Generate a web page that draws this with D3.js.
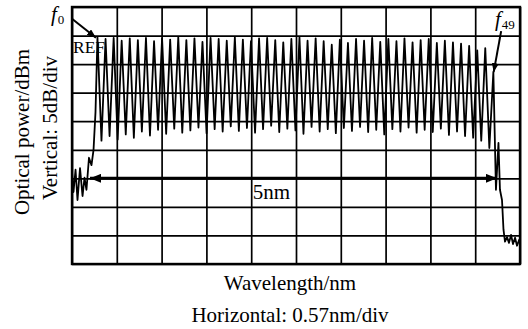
<!DOCTYPE html>
<html>
<head>
<meta charset="utf-8">
<script src="https://cdn.jsdelivr.net/npm/d3@7"></script>
<style>
  html, body { margin: 0; padding: 0; background: #fff; }
  svg { display: block; }
  text { font-family: "Liberation Serif", "Times New Roman", serif; fill: #000; }
</style>
</head>
<body>
<div id="chart"></div>
<script>
// grid divisions: 0.57 nm/div horizontally, 5 dB/div vertically (REF = 0 dB)
const xDivisions = [0, 0.57, 1.14, 1.71, 2.28, 2.85, 3.42, 3.99, 4.56, 5.13, 5.7];
const yDivisions = [5, 0, -5, -10, -15, -20, -25, -30, -35, -40];

// comb peaks f0 .. f49 (relative wavelength in nm, level in dB)
const peakNm = [0.324, 0.427, 0.530, 0.632, 0.735, 0.838, 0.941, 1.044, 1.146, 1.249,
  1.352, 1.455, 1.558, 1.660, 1.763, 1.866, 1.969, 2.072, 2.174, 2.277,
  2.380, 2.483, 2.586, 2.688, 2.791, 2.894, 2.997, 3.100, 3.202, 3.305,
  3.408, 3.511, 3.614, 3.716, 3.819, 3.922, 4.025, 4.128, 4.230, 4.333,
  4.436, 4.539, 4.642, 4.744, 4.847, 4.950, 5.053, 5.156, 5.258, 5.361];
const peakDb = [-0.3, -0.6, -0.4, -0.9, -0.5, -0.8, -0.4, -1.0, -0.5, -0.7,
  -0.3, -0.8, -0.5, -1.1, -0.4, -0.6, -0.9, -0.3, -0.7, -1.0,
  -0.5, -0.4, -0.8, -1.2, -0.6, -0.3, -0.9, -0.5, -1.0, -1.6,
  -0.7, -1.3, -0.6, -0.9, -0.4, -1.1, -0.6, -1.0, -0.5, -1.2,
  -0.8, -0.6, -1.3, -0.9, -1.2, -1.4, -1.8, -2.6, -2.2, -6.4];

// minima between neighbouring peaks
const troughNm = [0.375, 0.478, 0.581, 0.684, 0.787, 0.889, 0.992, 1.095, 1.198, 1.301,
  1.403, 1.506, 1.609, 1.712, 1.815, 1.917, 2.020, 2.123, 2.226, 2.329,
  2.431, 2.534, 2.637, 2.740, 2.843, 2.945, 3.048, 3.151, 3.254, 3.357,
  3.459, 3.562, 3.665, 3.768, 3.871, 3.973, 4.076, 4.179, 4.282, 4.385,
  4.487, 4.590, 4.693, 4.796, 4.899, 5.001, 5.104, 5.207, 5.310];
const troughDb = [-18.4, -17.6, -18.2, -17.3, -17.9, -16.8, -17.5, -16.5, -17.2, -16.3,
  -17.0, -16.6, -16.1, -17.1, -16.4, -16.8, -15.9, -16.7, -16.2, -17.0,
  -16.4, -15.8, -16.9, -16.3, -16.6, -17.2, -16.0, -16.8, -16.4, -17.1,
  -16.2, -16.7, -16.0, -16.9, -16.5, -17.3, -16.4, -16.8, -16.1, -17.0,
  -16.5, -16.9, -16.3, -17.4, -16.8, -17.6, -17.9, -18.4, -19.7];

// noise floor before f0 and after f49
const leftNm = [0, 0.019, 0.045, 0.070, 0.102, 0.134, 0.159, 0.184, 0.216, 0.248, 0.274, 0.299];
const leftDb = [-23.9, -27.4, -23.5, -28.8, -23.2, -28.1, -24.9, -27.0, -21.4, -22.7, -20.0, -13.4];
const rightNm = [5.394, 5.426, 5.445, 5.471, 5.490, 5.509, 5.535, 5.560, 5.586, 5.611, 5.637, 5.662, 5.688, 5.700];
const rightDb = [-27.0, -18.8, -27.0, -28.8, -34.0, -36.1, -35.3, -36.3, -34.9, -36.5, -35.4, -36.8, -35.8, -36.5];

// 5 nm span marker
const spanNm = [0.229, 5.407];
const spanDb = -25;
const spanLabel = '5nm';

const width = 528, height = 329;
const margin = { top: 7, right: 8, bottom: 65, left: 72 };
const innerW = width - margin.left - margin.right;
const innerH = height - margin.top - margin.bottom;

const trace = []
  .concat(leftNm.map((v, i) => ({ nm: v, db: leftDb[i] })))
  .concat(peakNm.map((v, i) => ({ nm: v, db: peakDb[i] })))
  .concat(troughNm.map((v, i) => ({ nm: v, db: troughDb[i] })))
  .concat(rightNm.map((v, i) => ({ nm: v, db: rightDb[i] })))
  .sort((a, b) => a.nm - b.nm);

const svg = d3.select('#chart')
  .append('svg')
  .attr('width', width)
  .attr('height', height);

const defs = svg.append('defs');
const marker = (id, w, l) => defs.append('marker')
  .attr('id', id)
  .attr('markerUnits', 'userSpaceOnUse')
  .attr('viewBox', `0 ${-w} ${l} ${2 * w}`)
  .attr('refX', l)
  .attr('refY', 0)
  .attr('markerWidth', l)
  .attr('markerHeight', 2 * w)
  .attr('orient', 'auto-start-reverse')
  .append('path')
  .attr('d', `M0,${-w}L${l},0L0,${w}Z`)
  .attr('fill', '#000');
marker('headSpan', 4.5, 11);
marker('headNote', 3.5, 9);

const wrapper = svg.append('g')
  .attr('transform', `translate(${margin.left}, ${margin.top})`);

const x = d3.scaleLinear().domain([0, 5.7]).range([0, innerW]);
const y = d3.scaleLinear().domain([5, -40]).range([0, innerH]);

const xGrid = (g) => g
  .call(d3.axisBottom(x).tickValues(xDivisions).tickSize(-innerH).tickFormat(''))
  .call((g) => g.select('.domain').remove())
  .call((g) => g.selectAll('.tick line').attr('stroke', '#000').attr('stroke-width', 1.7));

const yGrid = (g) => g
  .call(d3.axisLeft(y).tickValues(yDivisions).tickSize(-innerW).tickFormat(''))
  .call((g) => g.select('.domain').remove())
  .call((g) => g.selectAll('.tick line').attr('stroke', '#000').attr('stroke-width', 1.7));

wrapper.append('g')
  .attr('transform', `translate(0, ${innerH})`)
  .call(xGrid);

wrapper.append('g')
  .call(yGrid);

wrapper.append('rect')
  .attr('width', innerW)
  .attr('height', innerH)
  .attr('fill', 'none')
  .attr('stroke', '#000')
  .attr('stroke-width', 2.4);

wrapper.append('text')
  .attr('x', 1)
  .attr('y', y(0) + 17)
  .attr('font-size', 17.5)
  .text('REF');

const line = d3.line()
  .x((d) => x(d.nm))
  .y((d) => y(d.db));

wrapper.append('path')
  .datum(trace)
  .attr('fill', 'none')
  .attr('stroke', '#000')
  .attr('stroke-width', 1.8)
  .attr('stroke-linejoin', 'round')
  .attr('d', line);

// 5 nm span
wrapper.append('line')
  .attr('x1', x(spanNm[0]))
  .attr('x2', x(spanNm[1]))
  .attr('y1', y(spanDb))
  .attr('y2', y(spanDb))
  .attr('stroke', '#000')
  .attr('stroke-width', 3)
  .attr('marker-start', 'url(#headSpan)')
  .attr('marker-end', 'url(#headSpan)');

wrapper.append('text')
  .attr('x', x(2.3))
  .attr('y', y(spanDb) + 21)
  .attr('font-size', 21)
  .text(spanLabel);

// f0 / f49 annotations
const f0 = { px: x(peakNm[0]) - 1.5, py: y(peakDb[0]) + 0.5 };
wrapper.append('line')
  .attr('x1', f0.px - 24).attr('y1', f0.py - 19)
  .attr('x2', f0.px).attr('y2', f0.py)
  .attr('stroke', '#000').attr('stroke-width', 2)
  .attr('marker-end', 'url(#headNote)');

const f49 = { px: x(peakNm[49]) + 0.3, py: y(peakDb[49]) };
wrapper.append('line')
  .attr('x1', f49.px + 7.5).attr('y1', f49.py - 41)
  .attr('x2', f49.px).attr('y2', f49.py)
  .attr('stroke', '#000').attr('stroke-width', 2)
  .attr('marker-end', 'url(#headNote)');

const fLabel = (px, py, sub) => {
  const t = wrapper.append('text').attr('x', px).attr('y', py).attr('font-size', 21);
  t.append('tspan').attr('font-style', 'italic').text('f');
  t.append('tspan').attr('font-size', 13).attr('dx', 1).attr('dy', 3).text(sub);
};
fLabel(-21, 14, '0');
fLabel(423, 19, '49');

// axis titles
svg.append('text')
  .attr('transform', `translate(29, 132) rotate(-90)`)
  .attr('text-anchor', 'middle')
  .attr('font-size', 21)
  .text('Optical power/dBm');

svg.append('text')
  .attr('transform', `translate(57, 128) rotate(-90)`)
  .attr('text-anchor', 'middle')
  .attr('font-size', 21)
  .text('Vertical: 5dB/div');

svg.append('text')
  .attr('x', 290)
  .attr('y', 290)
  .attr('text-anchor', 'middle')
  .attr('font-size', 21)
  .text('Wavelength/nm');

svg.append('text')
  .attr('x', 290)
  .attr('y', 322)
  .attr('text-anchor', 'middle')
  .attr('font-size', 21)
  .text('Horizontal: 0.57nm/div');
</script>
</body>
</html>
